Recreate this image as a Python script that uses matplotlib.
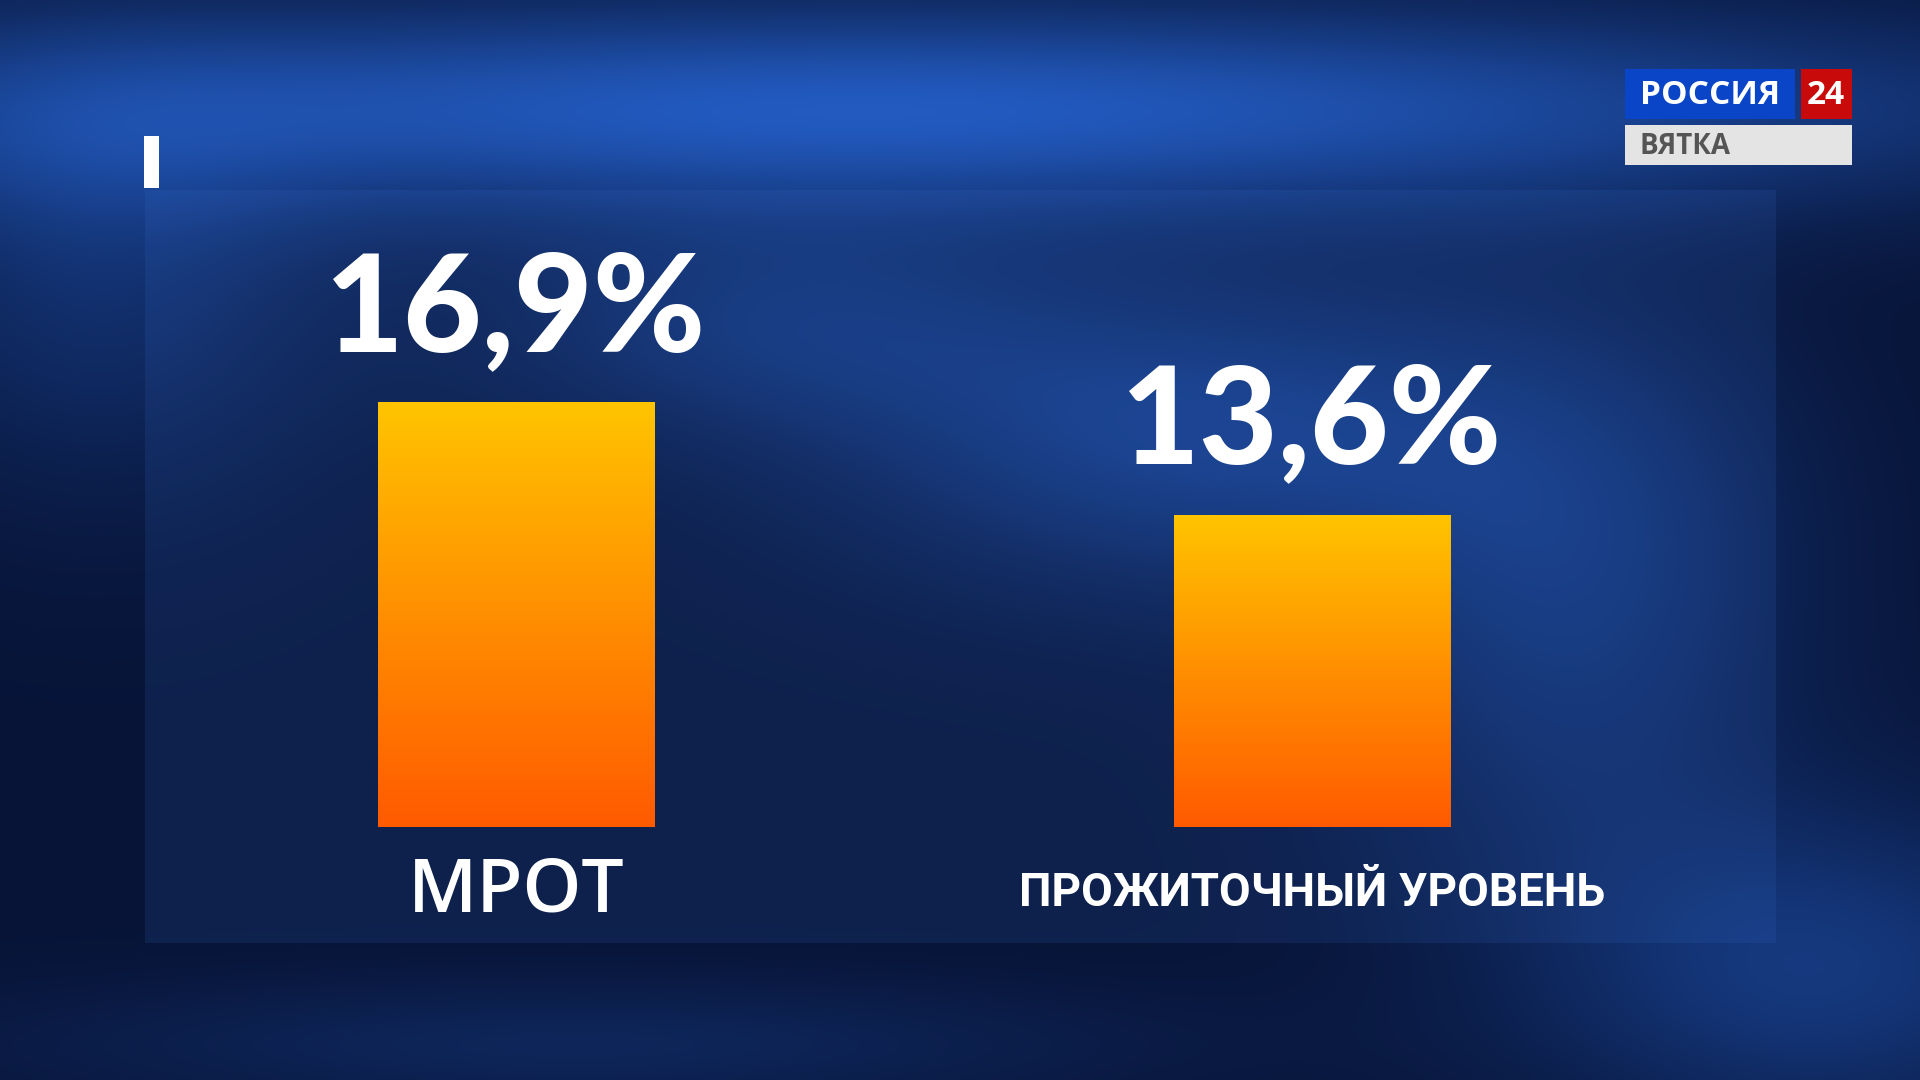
import numpy as np
import matplotlib
matplotlib.use("Agg")
import matplotlib.pyplot as plt
from matplotlib.patches import Rectangle

# data
categories = ["МРОТ", "ПРОЖИТОЧНЫЙ УРОВЕНЬ"]
values = [16.9, 13.6]
value_labels = ["16,9%", "13,6%"]

W, H = 1920, 1080
fig = plt.figure(figsize=(19.2, 10.8), dpi=100)

# blurred studio background
bg = fig.add_axes([0, 0, 1, 1])
bg.set_axis_off()
yy, xx = np.mgrid[0:1:216j, 0:1:384j]


def blob(cx, cy, sx, sy):
    return np.exp(-(((xx - cx) / sx) ** 2 + ((yy - cy) / sy) ** 2))


dark = np.array([0.03, 0.08, 0.22])
blue = np.array([0.16, 0.42, 0.88])
t = (0.80 * blob(0.45, 0.10, 0.60, 0.10)
     + 0.45 * blob(0.62, 0.40, 0.18, 0.14)
     + 0.30 * blob(0.40, 0.30, 0.15, 0.10)
     + 0.35 * blob(0.82, 0.55, 0.12, 0.25)
     + 0.30 * blob(0.05, 0.25, 0.12, 0.2)
     + 0.40 * blob(0.95, 0.90, 0.15, 0.15)
     + 0.20 * blob(0.30, 0.97, 0.3, 0.06))
t = np.clip(t, 0, 1)
img = dark + t[..., None] * (blue - dark)
bg.imshow(img, extent=[0, W, H, 0], aspect="auto", interpolation="bicubic")
bg.set_xlim(0, W)
bg.set_ylim(H, 0)

# panel and marker
bg.add_patch(Rectangle((145, 190), 1631, 753, facecolor="#3f7ae0", alpha=0.13, lw=0))
bg.add_patch(Rectangle((144, 136), 15, 52, facecolor="white", lw=0))

# channel logo
bg.add_patch(Rectangle((1625, 69), 170, 50, facecolor="#0a45c8", lw=0))
bg.add_patch(Rectangle((1801, 69), 51, 50, facecolor="#c80a0a", lw=0))
bg.add_patch(Rectangle((1625, 125), 227, 40, facecolor="#e4e4e4", lw=0))
bg.text(1710, 95, "РОССИЯ", color="white", fontsize=24, fontweight="bold",
        ha="center", va="center", family="Open Sans")
bg.text(1826, 95, "24", color="white", fontsize=24, fontweight="bold",
        ha="center", va="center", family="Open Sans")
bg.text(1640, 146, "ВЯТКА", color="#555555", fontsize=20, fontweight="bold",
        ha="left", va="center", family="Open Sans")

# bar chart
ax = fig.add_axes([118 / W, 253 / H, 1592 / W, 637 / H])
ax.patch.set_alpha(0)
for s in ax.spines.values():
    s.set_visible(False)
ax.set_xlim(-0.5, 1.5)
ax.set_ylim(4.48, 23.1)
ax.set_xticks([])
ax.set_yticks([])

x = np.arange(len(values))
bars = ax.bar(x, values, width=0.347, color="none", lw=0)
grad = np.linspace(0, 1, 256)[:, None]
cmap = matplotlib.colors.LinearSegmentedColormap.from_list("yo", ["#ff5a00", "#ffc400"])
for b in bars:
    im = ax.imshow(grad, cmap=cmap, origin="lower", aspect="auto",
                   extent=[b.get_x(), b.get_x() + b.get_width(), ax.get_ylim()[0], b.get_height()])
    im.set_clip_path(b)
ax.set_xlim(-0.5, 1.5)
ax.set_ylim(4.48, 23.1)

for xi, v, lab in zip(x, values, value_labels):
    ax.annotate(lab, (xi, v), xytext=(0, 37), textcoords="offset points",
                ha="center", va="baseline", color="white", fontsize=98,
                fontweight="black", family="Lato")

cat_sizes = [54, 33]
cat_weights = ["semibold", "bold"]
cat_fonts = ["Open Sans", "Roboto"]
cat_offsets = [61, 57]
for xi, c, fs, fw, ff, off in zip(x, categories, cat_sizes, cat_weights, cat_fonts, cat_offsets):
    ax.annotate(c, (xi, 0), xycoords=("data", "axes fraction"), xytext=(0, -off),
                textcoords="offset points", ha="center", va="baseline",
                color="white", fontsize=fs, fontweight=fw, family=ff)

fig.savefig("out.png", dpi=100)
